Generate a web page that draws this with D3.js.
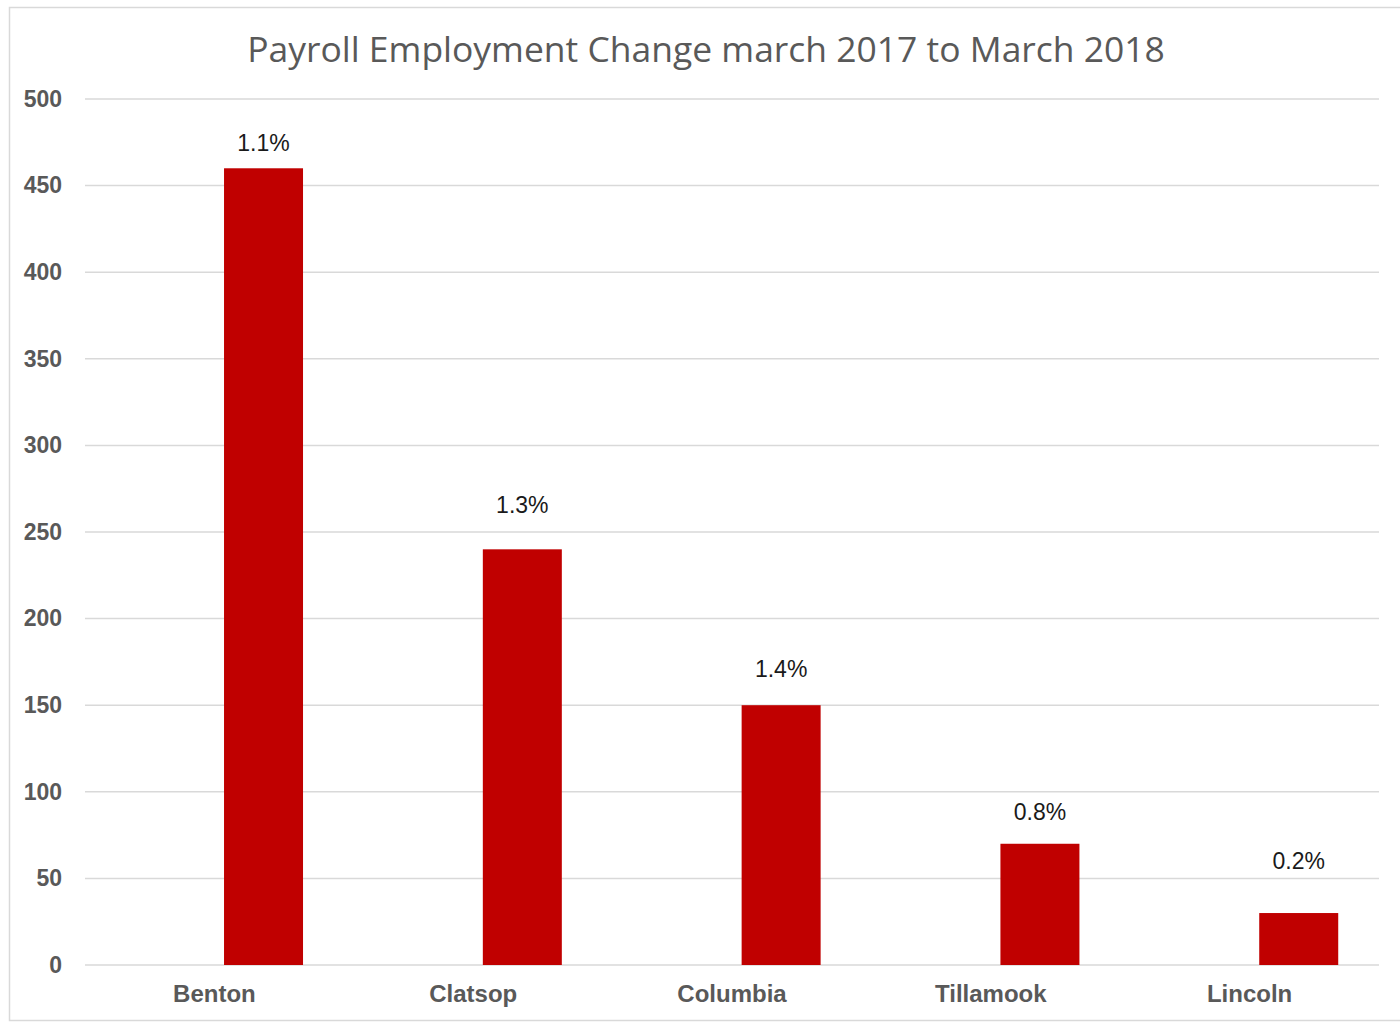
<!DOCTYPE html>
<html lang="en">
  <head>
    <meta charset="UTF-8" />
    <script src="https://d3js.org/d3.v7.min.js"></script>
    <title>Payroll Employment Change</title>
    <style>
      body { margin: 0; background: #fff; }
    </style>
  </head>
  <body>
    <div id="chart"></div>
    <script>
      // counties and jobs added, march 2017 to march 2018
      var counties = ["Benton", "Clatsop", "Columbia", "Tillamook", "Lincoln"];
      var jobChange = [460, 240, 150, 70, 30];
      var pctChange = ["1.1%", "1.3%", "1.4%", "0.8%", "0.2%"];
      var yTicks = [0, 50, 100, 150, 200, 250, 300, 350, 400, 450, 500];

      // the source chart had an empty first series, so bars sit right of centre
      var seriesSlots = ["blank", "change"];

      // labels were dragged by hand in the original, so each sits a bit differently (px)
      var labelLift = [17, 36, 28, 24, 44];

      var width = 1400,
        height = 1022,
        margin = { top: 99, right: 21, bottom: 57, left: 85 };

      var svg = d3
        .select("#chart")
        .append("svg")
        .attr("width", width)
        .attr("height", height);

      // outer frame
      svg
        .append("rect")
        .attr("x", 9.5)
        .attr("y", 7.5)
        .attr("width", 1400)
        .attr("height", 1013)
        .attr("fill", "white")
        .attr("stroke", "#d9d9d9")
        .attr("stroke-width", 1.5);

      var x = d3
        .scaleBand()
        .domain(counties)
        .range([margin.left, width - margin.right]);

      var x1 = d3
        .scaleBand()
        .domain(seriesSlots)
        .range([0, x.bandwidth()])
        .paddingInner(0.196)
        .paddingOuter(0.415);

      var y = d3
        .scaleLinear()
        .domain([0, 500])
        .range([height - margin.bottom, margin.top]);

      // gridlines
      svg
        .append("g")
        .selectAll("line")
        .data(yTicks)
        .join("line")
        .attr("x1", margin.left)
        .attr("x2", width - margin.right)
        .attr("y1", function (d) { return y(d); })
        .attr("y2", function (d) { return y(d); })
        .attr("stroke", "#d9d9d9")
        .attr("stroke-width", 1.5);

      // y axis labels
      var yAxis = d3.axisLeft(y).tickValues(yTicks).tickSize(0).tickPadding(0);
      var gy = svg
        .append("g")
        .attr("transform", "translate(" + (margin.left - 23) + ",0)")
        .call(yAxis);
      gy.select(".domain").remove();
      gy.selectAll("text")
        .attr("font-family", "Liberation Sans, Arial, sans-serif")
        .attr("font-weight", "bold")
        .attr("font-size", 23)
        .attr("fill", "#595959");

      // x axis labels
      var xAxis = d3.axisBottom(x).tickSize(0).tickPadding(20);
      var gx = svg
        .append("g")
        .attr("transform", "translate(0," + y(0) + ")")
        .call(xAxis);
      gx.select(".domain").remove();
      gx.selectAll("text")
        .attr("font-family", "Liberation Sans, Arial, sans-serif")
        .attr("font-weight", "bold")
        .attr("font-size", 24)
        .attr("fill", "#595959");

      var rows = counties.map(function (c, i) {
        return { county: c, value: jobChange[i], pct: pctChange[i], lift: labelLift[i] };
      });

      var bars = svg.append("g");
      bars
        .selectAll("rect")
        .data(rows)
        .join("rect")
        .attr("x", function (d) { return x(d.county) + x1("change"); })
        .attr("width", x1.bandwidth())
        .attr("y", function (d) { return y(d.value); })
        .attr("height", function (d) { return y(0) - y(d.value); })
        .attr("fill", "#c00000");

      bars
        .selectAll("text")
        .data(rows)
        .join("text")
        .attr("x", function (d) { return x(d.county) + x1("change") + x1.bandwidth() / 2; })
        .attr("y", function (d) { return y(d.value) - d.lift; })
        .attr("text-anchor", "middle")
        .attr("font-family", "Liberation Sans, Arial, sans-serif")
        .attr("font-size", 23)
        .attr("fill", "#1a1a1a")
        .text(function (d) { return d.pct; });

      // title
      var title = svg
        .append("text")
        .attr("x", 706)
        .attr("y", 62)
        .attr("text-anchor", "middle")
        .attr("font-family", "Open Sans, sans-serif")
        .attr("font-size", 36)
        .attr("fill", "#595959")
        .text("Payroll Employment Change march 2017 to March 2018");
      var tw = title.node().getComputedTextLength();
      title.attr("font-size", 36 * 918 / tw);
    </script>
  </body>
</html>
